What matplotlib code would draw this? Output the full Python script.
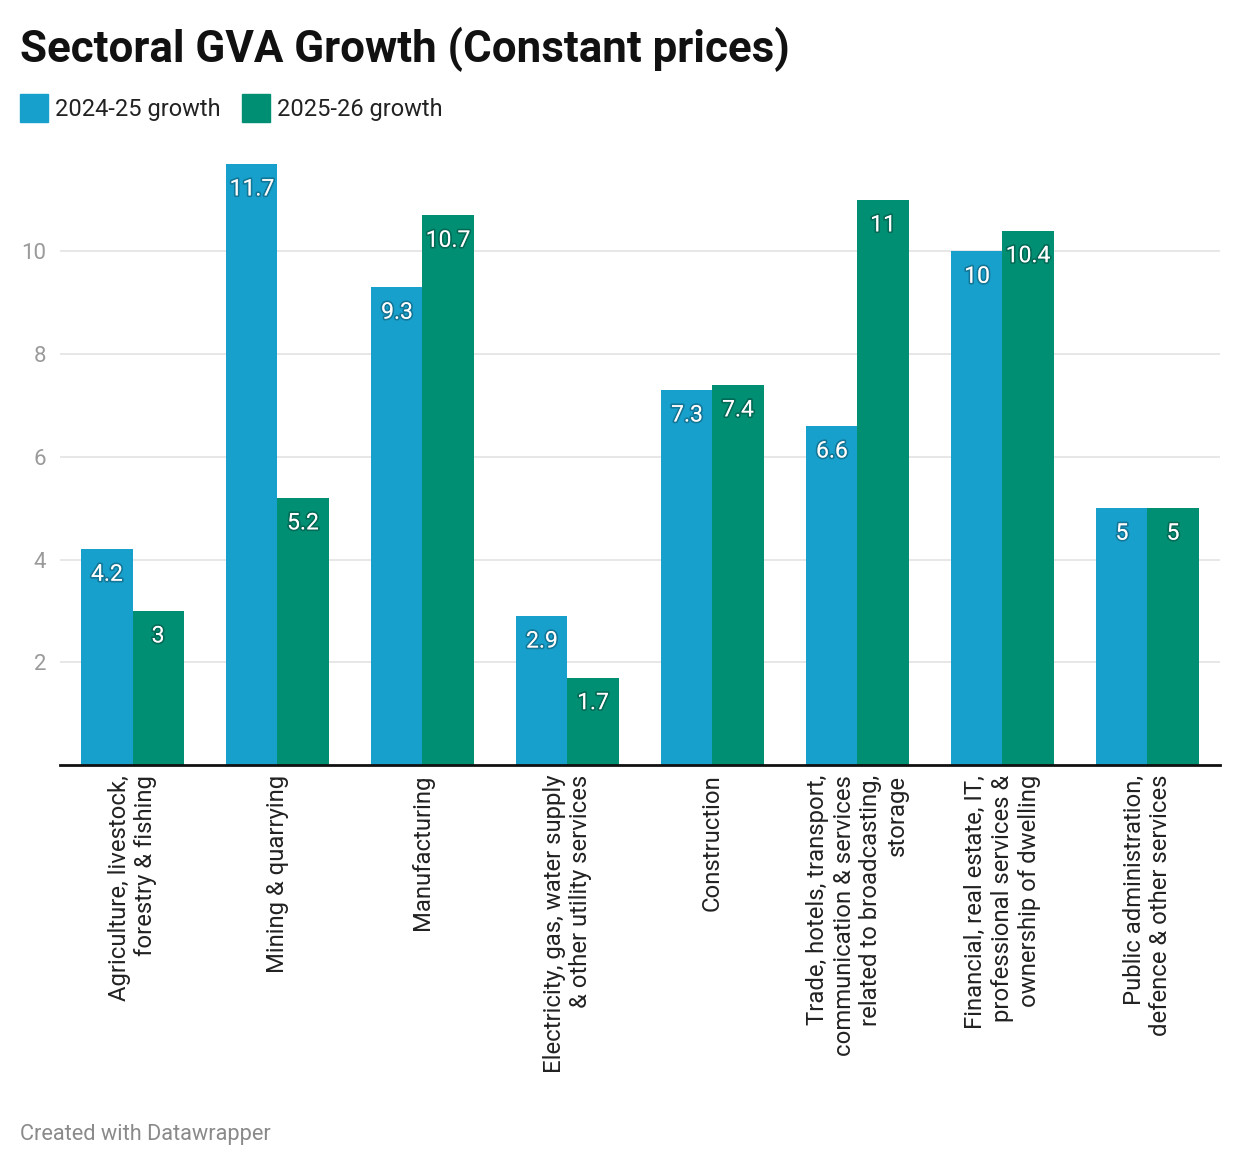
import numpy as np
import matplotlib
matplotlib.use("Agg")
import matplotlib.pyplot as plt
import matplotlib.patheffects as pe
from matplotlib.patches import Rectangle

plt.rcParams['font.family'] = ['Roboto', 'DejaVu Sans']

sectors = [
    "Agriculture, livestock,\nforestry & fishing",
    "Mining & quarrying",
    "Manufacturing",
    "Electricity, gas, water supply\n& other utility services",
    "Construction",
    "Trade, hotels, transport,\ncommunication & services\nrelated to broadcasting,\nstorage",
    "Financial, real estate, IT,\nprofessional services &\nownership of dwelling",
    "Public administration,\ndefence & other services",
]
growth_2425 = [4.2, 11.7, 9.3, 2.9, 7.3, 6.6, 10, 5]
growth_2526 = [3, 5.2, 10.7, 1.7, 7.4, 11, 10.4, 5]
series_names = ["2024-25 growth", "2025-26 growth"]
yticks = [2, 4, 6, 8, 10]

blue = "#18a0cc"
green = "#008f73"

W, H = 1240, 1166
fig = plt.figure(figsize=(W / 100, H / 100), dpi=100)
ax = fig.add_axes([60 / W, 1 - 765 / H, 1160 / W, (765 - 140) / H])

x = np.arange(len(sectors))
bw = 0.352
bars1 = ax.bar(x - bw / 2, growth_2425, width=bw, color=blue, zorder=2)
bars2 = ax.bar(x + bw / 2, growth_2526, width=bw, color=green, zorder=2)

# value labels inside the top of each bar
shadow = [pe.withStroke(linewidth=2.5, foreground=(0, 0, 0, 0.25))]
for bars, vals in [(bars1, growth_2425), (bars2, growth_2526)]:
    for b, v in zip(bars, vals):
        ax.annotate(f"{v:g}", (b.get_x() + b.get_width() / 2, v),
                    xytext=(0, -18), textcoords="offset points",
                    ha="center", va="center", color="white", fontsize=16.5,
                    path_effects=shadow, zorder=3)

ax.set_xlim(-0.5, len(sectors) - 0.5)
ax.set_ylim(0, (765 - 140) / 51.375)
ax.set_yticks(yticks)
ax.set_yticklabels([str(t) for t in yticks], color="#9a9a9a", fontsize=16)
ax.tick_params(axis="y", length=0, pad=10)
ax.grid(axis="y", color="#e3e3e3", linewidth=1.2, zorder=0)
ax.set_axisbelow(True)

ax.set_xticks(x)
ax.set_xticklabels(sectors, rotation=90, ha="center", va="top",
                   multialignment="right", fontsize=17.2, color="#222222")
ax.tick_params(axis="x", length=0, pad=7)

for s in ["top", "right", "left"]:
    ax.spines[s].set_visible(False)
ax.spines["bottom"].set_color("#111111")
ax.spines["bottom"].set_linewidth(2)
ax.spines["bottom"].set_zorder(4)

fig.text(20 / W, 1 - 62 / H, "Sectoral GVA Growth (Constant prices)",
         fontsize=31.6, fontweight="bold", color="#111111", va="baseline")

# legend
for name, col, lx in zip(series_names, [blue, green], [20, 242]):
    fig.patches.append(Rectangle((lx / W, 1 - 122 / H), 28 / W, 28 / H,
                                 transform=fig.transFigure, color=col))
    fig.text((lx + 35) / W, 1 - 116 / H, name, fontsize=17,
             color="#222222", va="baseline")

fig.text(20 / W, 1 - 1140 / H, "Created with Datawrapper", fontsize=15.7,
         color="#8a8a8a", va="baseline")

fig.savefig("out.png", dpi=100, facecolor="white")
